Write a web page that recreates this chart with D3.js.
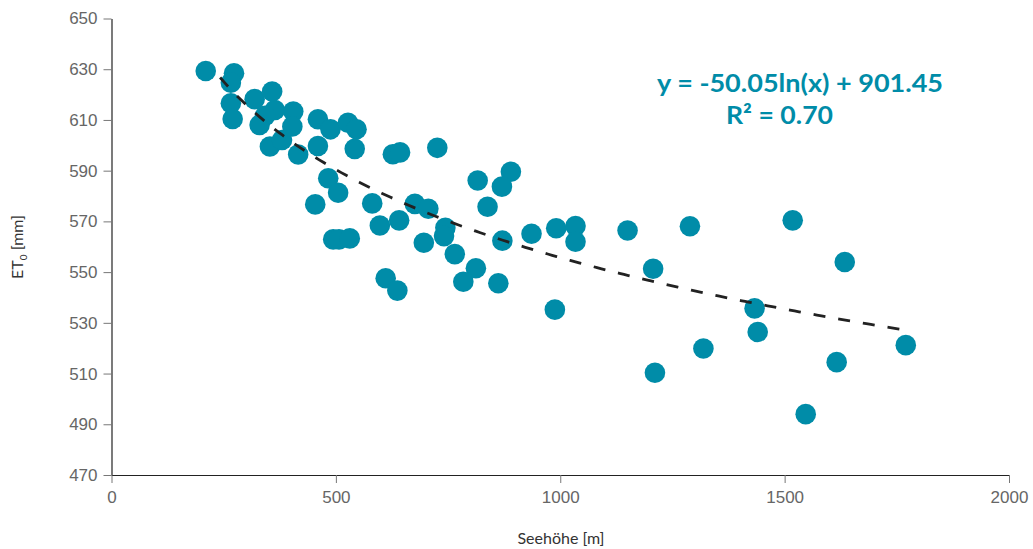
<!DOCTYPE html>
<html>
<head>
<meta charset="utf-8">
<script src="https://cdnjs.cloudflare.com/ajax/libs/d3/7.8.5/d3.min.js"></script>
<style>
  body { margin: 0; background: #fff; }
  svg { display: block; font-family: Lato, "Open Sans", sans-serif; }
</style>
</head>
<body>
<svg></svg>
<script>
var width = 1033;
var height = 549;

// data (Seehöhe in m, ET0 in mm)
var seehoehe = [210, 273, 266, 266, 270, 319, 358, 364, 342, 330, 353, 380, 405, 403, 416,
  460, 488, 527, 546, 460, 542, 627, 643, 726, 483, 505, 454, 581, 676, 706,
  598, 641, 744, 741, 816, 890, 870, 838, 494, 507, 531, 696, 765, 871, 936,
  991, 1034, 1034, 1150, 1289, 1518, 1634, 1207, 611, 637, 812, 784, 862, 988,
  1433, 1440, 1319, 1211, 1616, 1770, 1547];
var et0 = [629.3, 628.4, 624.7, 616.6, 610.4, 618.2, 621.2, 613.9, 611.6, 608.0, 599.5, 602.1, 613.3, 607.4, 596.4,
  610.3, 606.3, 608.9, 606.3, 599.7, 598.6, 596.5, 597.2, 599.0, 587.0, 581.3, 576.7, 577.1, 576.9, 575.0,
  568.4, 570.4, 567.5, 564.2, 586.1, 589.6, 583.7, 575.8, 562.9, 562.9, 563.3, 561.6, 557.1, 562.4, 565.1,
  567.3, 568.2, 562.0, 566.4, 568.1, 570.4, 554.0, 551.3, 547.6, 542.7, 551.5, 546.2, 545.6, 535.2,
  535.7, 526.4, 519.9, 510.3, 514.5, 521.2, 494.0];

// logarithmic trend line from the label
var trendA = -50.05;
var trendB = 901.45;
var trendRange = [242, 1770];

var xTicks = [0, 500, 1000, 1500, 2000];
var yTicks = [470, 490, 510, 530, 550, 570, 590, 610, 630, 650];

var teal = "#008ca8";

var margin = {top: 18.5, right: 24, bottom: 74, left: 111.5};

var svg = d3.select("svg")
    .attr("width", width)
    .attr("height", height);

var x = d3.scaleLinear().domain([0, 2000]).range([margin.left, width - margin.right]);
var y = d3.scaleLinear().domain([470, 650]).range([height - margin.bottom, margin.top]);

// axes
var xAxis = svg.append("g")
    .attr("transform", "translate(0," + (height - margin.bottom) + ")")
    .call(d3.axisBottom(x).tickValues(xTicks).tickFormat(d3.format("d"))
      .tickSize(8).tickPadding(8).tickSizeOuter(0));
var yAxis = svg.append("g")
    .attr("transform", "translate(" + margin.left + ",0)")
    .call(d3.axisLeft(y).tickValues(yTicks).tickFormat(d3.format("d"))
      .tickSize(8).tickPadding(6).tickSizeOuter(0));

[xAxis, yAxis].forEach(function(ax) {
  ax.select(".domain").attr("stroke", "#222").attr("stroke-width", 1.2);
  ax.selectAll(".tick line").attr("stroke", "#777");
  ax.selectAll(".tick text")
      .attr("fill", "#666")
      .style("font-size", "17px")
      .style("font-weight", 300);
});

// points
svg.append("g")
  .selectAll("circle")
  .data(seehoehe.map(function(d, i) { return {x: d, y: et0[i]}; }))
  .enter().append("circle")
    .attr("cx", function(d) { return x(d.x); })
    .attr("cy", function(d) { return y(d.y); })
    .attr("r", 10.3)
    .attr("fill", teal);

// trend line (drawn over the points)
var trendX = d3.range(trendRange[0], trendRange[1], 10).concat([trendRange[1]]);
svg.append("path")
    .datum(trendX)
    .attr("fill", "none")
    .attr("stroke", "#222")
    .attr("stroke-width", 2.8)
    .attr("stroke-dasharray", "12,13")
    .attr("d", d3.line()
        .x(function(d) { return x(d); })
        .y(function(d) { return y(trendA * Math.log(d) + trendB); }));

// equation
svg.append("text")
    .attr("x", 657).attr("y", 92)
    .attr("fill", teal)
    .attr("textLength", 286)
    .attr("lengthAdjust", "spacingAndGlyphs")
    .style("font-size", "25px")
    .style("font-weight", 700)
    .text("y = -50.05ln(x) + 901.45");
svg.append("text")
    .attr("x", 726).attr("y", 124)
    .attr("fill", teal)
    .attr("textLength", 107)
    .attr("lengthAdjust", "spacingAndGlyphs")
    .style("font-size", "25px")
    .style("font-weight", 700)
    .text("R\u00b2 = 0.70");

// axis titles
svg.append("text")
    .attr("x", 561).attr("y", 544)
    .attr("text-anchor", "middle")
    .attr("fill", "#333")
    .style("font-size", "16px")
    .text("Seehöhe [m]");

var yt = svg.append("text")
    .attr("transform", "translate(23,247) rotate(-90)")
    .attr("text-anchor", "middle")
    .attr("fill", "#333")
    .style("font-size", "16px");
yt.append("tspan").text("ET");
yt.append("tspan").attr("dy", 4).style("font-size", "10px").text("0");
yt.append("tspan").attr("dy", -4).text(" [mm]");
</script>
</body>
</html>
